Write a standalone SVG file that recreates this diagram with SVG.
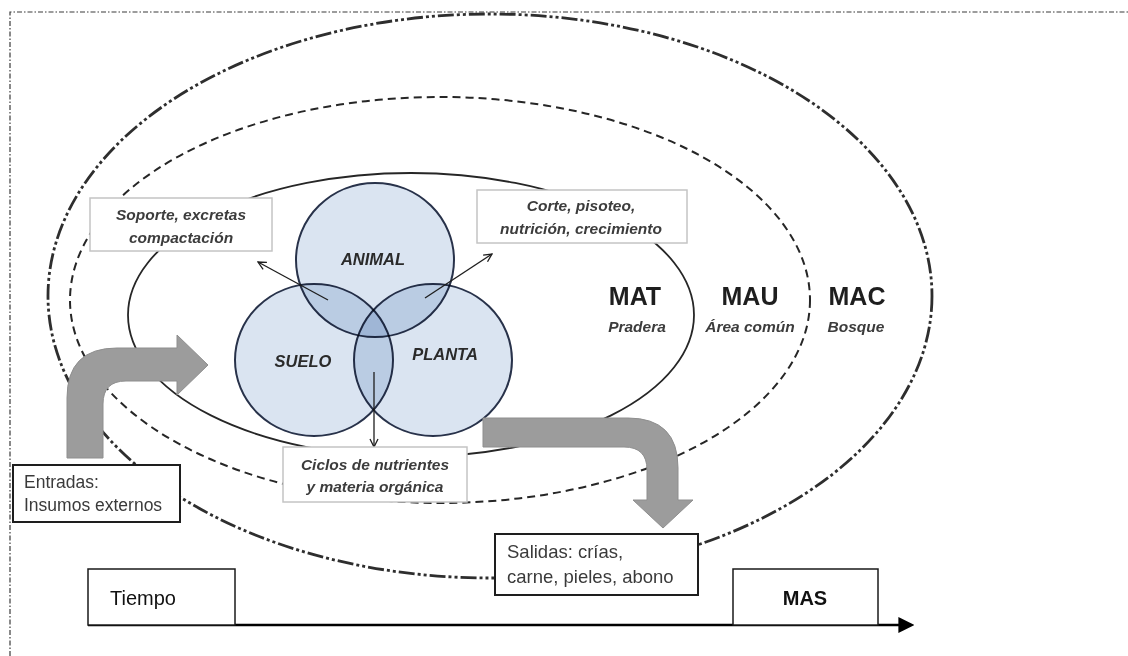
<svg xmlns="http://www.w3.org/2000/svg" width="1128" height="656" viewBox="0 0 1128 656">
<defs>
<style>
.frame{fill:none;stroke:#3a3a3a;stroke-width:1.2;stroke-dasharray:5 2 1.5 2}
.mac{fill:none;stroke:#2e2e2e;stroke-width:2.8;stroke-dasharray:16 3 3 3 3 3}
.mau{fill:none;stroke:#262626;stroke-width:2;stroke-dasharray:8 5}
.mat{fill:none;stroke:#262626;stroke-width:1.8}
.venn{fill:#dae4f1;stroke:#28324a;stroke-width:2;mix-blend-mode:multiply}
.vlab{font-family:"Liberation Sans",Arial,sans-serif;font-weight:bold;font-style:italic;font-size:16.5px;fill:#2a2a2a;text-anchor:middle}
.nbox{fill:#fff;stroke:#c4c4c4;stroke-width:1.5}
.ntxt{font-family:"Liberation Sans",Arial,sans-serif;font-weight:bold;font-style:italic;font-size:15.5px;fill:#3c3c3c;text-anchor:middle}
.zone{font-family:"Liberation Sans",Arial,sans-serif;font-weight:bold;font-size:25px;fill:#1e1e1e;text-anchor:middle}
.zsub{font-family:"Liberation Sans",Arial,sans-serif;font-weight:bold;font-style:italic;font-size:15.5px;fill:#3c3c3c;text-anchor:middle}
.big{fill:#9c9c9c;stroke:#8e8e8e;stroke-width:1}
.ibox{fill:#fff;stroke:#1e1e1e;stroke-width:2}
.itxt{font-family:"Liberation Sans",Arial,sans-serif;font-size:17.5px;fill:#3a3a3a}
.thin{fill:none;stroke:#1e1e1e;stroke-width:1.3;marker-end:url(#open)}
.axis{fill:none;stroke:#000;stroke-width:2.5;marker-end:url(#tri)}
.tbox{fill:#fff;stroke:#1a1a1a;stroke-width:1.5}
.ttxt{font-family:"Liberation Sans",Arial,sans-serif;font-size:20px;fill:#111}
</style>
<marker id="open" viewBox="0 0 10 10" refX="9" refY="5" markerWidth="10" markerHeight="10" orient="auto" markerUnits="userSpaceOnUse">
<path d="M1,1 L9,5 L1,9" fill="none" stroke="#1e1e1e" stroke-width="1.3"/>
</marker>
<marker id="tri" viewBox="0 0 10 10" refX="1" refY="5" markerWidth="16" markerHeight="16" orient="auto" markerUnits="userSpaceOnUse">
<path d="M0,0 L10,5 L0,10 Z" fill="#000"/>
</marker>
</defs>
<rect width="1128" height="656" fill="#fff"/>
<path class="frame" d="M10,656 L10,12 L1128,12"/>

<g id="zone-mac">
<ellipse class="mac" cx="490" cy="296" rx="442" ry="282"/>
<text class="zone" x="857" y="305">MAC</text>
<text class="zsub" x="856" y="332">Bosque</text>
</g>
<g id="zone-mau">
<ellipse class="mau" cx="440" cy="300" rx="370" ry="203"/>
<text class="zone" x="750" y="305">MAU</text>
<text class="zsub" x="750" y="332">Área común</text>
</g>
<g id="zone-mat">
<ellipse class="mat" cx="411" cy="315" rx="283" ry="142"/>
<text class="zone" x="635" y="305">MAT</text>
<text class="zsub" x="637" y="332">Pradera</text>
</g>

<g id="venn" style="isolation:isolate">
<g id="node-animal">
<ellipse class="venn" cx="375" cy="260" rx="79" ry="77"/>
<text class="vlab" x="373" y="265">ANIMAL</text>
</g>
<g id="node-suelo">
<ellipse class="venn" cx="314" cy="360" rx="79" ry="76"/>
<text class="vlab" x="303" y="367">SUELO</text>
</g>
<g id="node-planta">
<ellipse class="venn" cx="433" cy="360" rx="79" ry="76"/>
<text class="vlab" x="445" y="360">PLANTA</text>
</g>
</g>

<g id="connectors">
<path class="big" d="M67,458 L67,398 Q67,348 117,348 L177,348 L177,335 L208,365 L177,395 L177,381 L126,381 Q103,381 103,404 L103,458 Z"/>
<path class="big" d="M483,418 L628,418 Q678,418 678,468 L678,500 L693,500 L663,528 L633,500 L647,500 L647,470 Q647,447 624,447 L483,447 Z"/>
<line class="thin" x1="328" y1="300" x2="258" y2="262"/>
<line class="thin" x1="425" y1="298" x2="492" y2="254"/>
<line class="thin" x1="374" y1="372" x2="374" y2="447"/>
<line class="axis" x1="88" y1="625" x2="900" y2="625"/>
</g>

<g id="node-soporte">
<rect class="nbox" x="90" y="198" width="182" height="53"/>
<text class="ntxt" x="181" y="220">Soporte, excretas</text>
<text class="ntxt" x="181" y="243">compactación</text>
</g>
<g id="node-corte">
<rect class="nbox" x="477" y="190" width="210" height="53"/>
<text class="ntxt" x="581" y="211">Corte, pisoteo,</text>
<text class="ntxt" x="581" y="234">nutrición, crecimiento</text>
</g>
<g id="node-ciclos">
<rect class="nbox" x="283" y="447" width="184" height="55"/>
<text class="ntxt" x="375" y="470">Ciclos de nutrientes</text>
<text class="ntxt" x="375" y="492">y materia orgánica</text>
</g>
<g id="node-entradas">
<rect class="ibox" x="13" y="465" width="167" height="57"/>
<text class="itxt" x="24" y="488">Entradas:</text>
<text class="itxt" x="24" y="511">Insumos externos</text>
</g>
<g id="node-salidas">
<rect class="ibox" x="495" y="534" width="203" height="61"/>
<text class="itxt" x="507" y="558" style="font-size:18.5px">Salidas: crías,</text>
<text class="itxt" x="507" y="583" style="font-size:18.5px">carne, pieles, abono</text>
</g>
<g id="node-tiempo">
<rect class="tbox" x="88" y="569" width="147" height="56"/>
<text class="ttxt" x="110" y="605">Tiempo</text>
</g>
<g id="node-mas">
<rect class="tbox" x="733" y="569" width="145" height="56"/>
<text class="ttxt" x="805" y="605" text-anchor="middle" font-weight="bold">MAS</text>
</g>
</svg>
